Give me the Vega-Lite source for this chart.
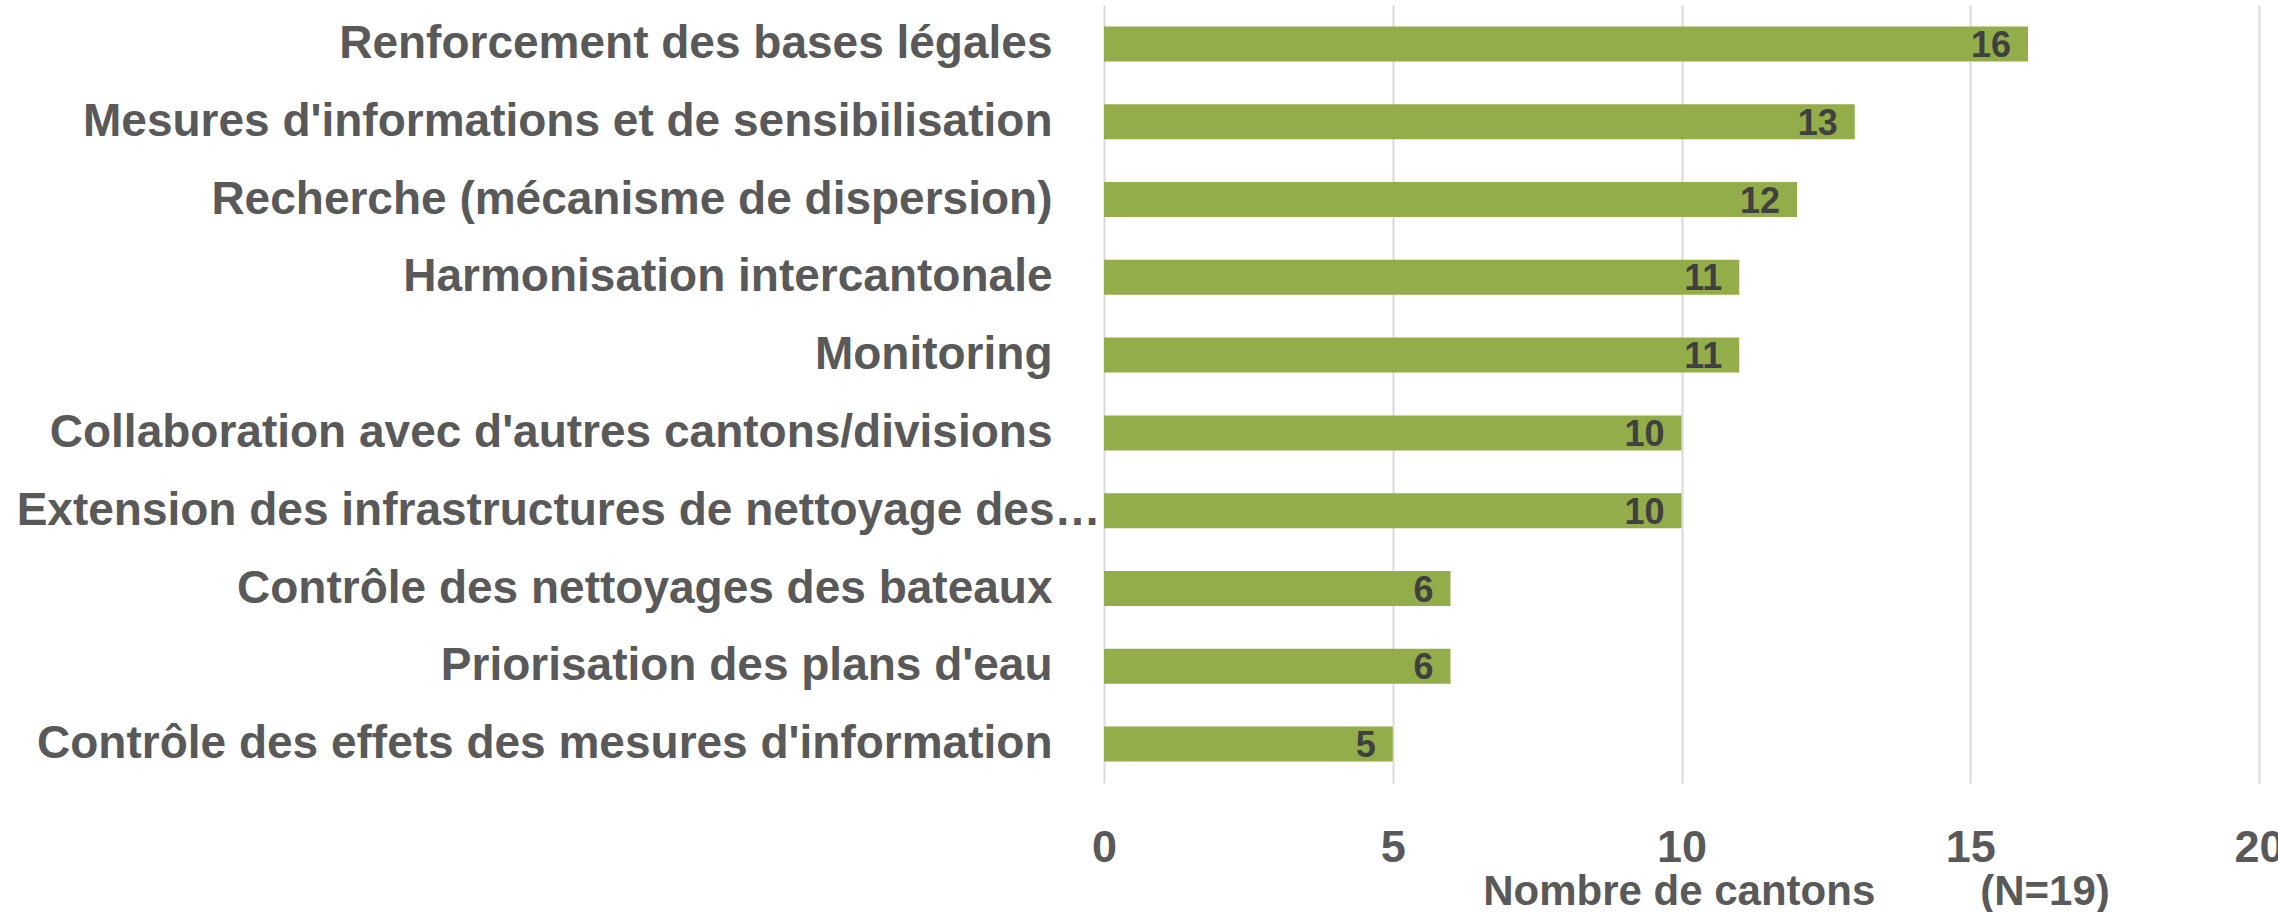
{
  "$schema": "https://vega.github.io/schema/vega-lite/v6.json",
  "autosize": {"type": "none"},
  "padding": {"left": 1104, "top": 5, "right": 19, "bottom": 129},
  "width": 1155,
  "height": 778,
  "background": "#ffffff",
  "config": {
    "view": {"stroke": null},
    "font": "Liberation Sans"
  },
  "data": {
    "values": [
      {"mesure": "Renforcement des bases légales", "cantons": 16},
      {"mesure": "Mesures d'informations et de sensibilisation", "cantons": 13},
      {"mesure": "Recherche (mécanisme de dispersion)", "cantons": 12},
      {"mesure": "Harmonisation intercantonale", "cantons": 11},
      {"mesure": "Monitoring", "cantons": 11},
      {"mesure": "Collaboration avec d'autres cantons/divisions", "cantons": 10},
      {"mesure": "Extension des infrastructures de nettoyage des…", "cantons": 10},
      {"mesure": "Contrôle des nettoyages des bateaux", "cantons": 6},
      {"mesure": "Priorisation des plans d'eau", "cantons": 6},
      {"mesure": "Contrôle des effets des mesures d'information", "cantons": 5}
    ]
  },
  "encoding": {
    "y": {
      "field": "mesure",
      "type": "nominal",
      "sort": null,
      "scale": {"paddingInner": 0.55, "paddingOuter": 0.275},
      "axis": {
        "title": null,
        "domain": false,
        "ticks": false,
        "tickSize": 0,
        "grid": false,
        "labelFont": "Liberation Sans",
        "labelFontSize": 46,
        "labelFontWeight": "bold",
        "labelColor": "#595959",
        "labelLimit": 1200,
        "labelPadding": {
          "condition": {"test": "indexof(datum.value, 'Extension') == 0", "value": 4},
          "value": 52
        }
      }
    },
    "x": {
      "field": "cantons",
      "type": "quantitative",
      "scale": {"domain": [0, 20], "nice": false},
      "axis": {
        "values": [0, 5, 10, 15, 20],
        "domain": false,
        "ticks": false,
        "tickSize": 0,
        "grid": true,
        "gridColor": "#D9D9D9",
        "gridWidth": 2,
        "labelFont": "Liberation Sans",
        "labelFontSize": 45,
        "labelFontWeight": "bold",
        "labelColor": "#595959",
        "labelBaseline": "alphabetic",
        "labelPadding": 78,
        "labelFlush": false,
        "labelOverlap": false,
        "title": "Nombre de cantons\u00a0\u00a0\u00a0\u00a0\u00a0\u00a0\u00a0\u00a0\u00a0(N=19)",
        "titleFont": "Liberation Sans",
        "titleFontSize": 42,
        "titleFontWeight": "bold",
        "titleColor": "#595959",
        "titleX": 692,
        "titleY": 121,
        "titleAlign": "center",
        "titleBaseline": "alphabetic"
      }
    }
  },
  "layer": [
    {
      "mark": {"type": "bar", "color": "#93AD4A"}
    },
    {
      "mark": {
        "type": "text",
        "align": "right",
        "baseline": "alphabetic",
        "dx": -17,
        "dy": 13,
        "font": "Liberation Sans",
        "fontSize": 36,
        "fontWeight": "bold",
        "color": "#404040"
      },
      "encoding": {
        "text": {"field": "cantons", "type": "quantitative"}
      }
    }
  ]
}
